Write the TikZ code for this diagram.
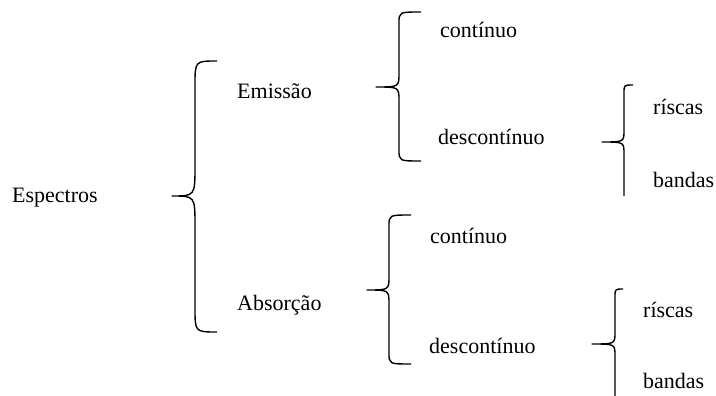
\documentclass[tikz,border=0pt]{standalone}
\usepackage{fontspec}
\setmainfont{Liberation Serif}
\usepackage{tikz}
\usetikzlibrary{positioning}
\tikzstyle{textnode} = [anchor=base west, inner sep=0pt, text=black]
\tikzstyle{bracepath} = [line width=1.4pt, color=black, line join=round]
% tip x, tip y, vertical x, top y, bottom y, end x, end bend, tip bend
\newcommand{\curlybrace}[8]{%
  \draw[bracepath] (#6,#4) .. controls (#3,#4) .. (#3,#4+#7) -- (#3,#2-#8)
    .. controls (#3,#2) .. (#1,#2) .. controls (#3,#2) .. (#3,#2+#8)
    -- (#3,#5-#7) .. controls (#3,#5) .. (#6,#5);}
\newcommand{\curlybracecut}[8]{%
  \draw[bracepath] (#6,#4) .. controls (#3,#4) .. (#3,#4+#7) -- (#3,#2-#8)
    .. controls (#3,#2) .. (#1,#2) .. controls (#3,#2) .. (#3,#2+#8)
    -- (#3,#5);}

\begin{document}
\begin{tikzpicture}[x=1pt, y=-1pt, font=\fontsize{22}{26}\selectfont]
\useasboundingbox (0,0) rectangle (716,396);

\node[textnode] (espectros) at (12,203) {Espectros};
\node[textnode] (emissao) at (237,99) {Emissão};
\node[textnode] (absorcao) at (237,310) {Absorção};

\node[textnode] (em-cont) at (440,38) {contínuo};
\node[textnode] (em-desc) at (438,145) {descontínuo};
\node[textnode] (em-risc) at (653,115) {ríscas};
\node[textnode] (em-band) at (653,187) {bandas};

\node[textnode] (ab-cont) at (430,243) {contínuo};
\node[textnode] (ab-desc) at (429,353) {descontínuo};
\node[textnode] (ab-risc) at (643,317) {ríscas};
\node[textnode] (ab-band) at (643,388) {bandas};

% braces
\curlybrace{172}{196}{195}{61}{332}{217}{24}{30}
\curlybrace{376}{87}{399}{12}{161}{421}{11}{14}
\curlybracecut{602}{142}{624}{85}{196}{633}{8}{12}
\curlybrace{367}{290}{389}{215}{364}{411}{11}{14}
\curlybrace{592}{344}{615}{289}{420}{623}{8}{12}
\end{tikzpicture}
\end{document}
